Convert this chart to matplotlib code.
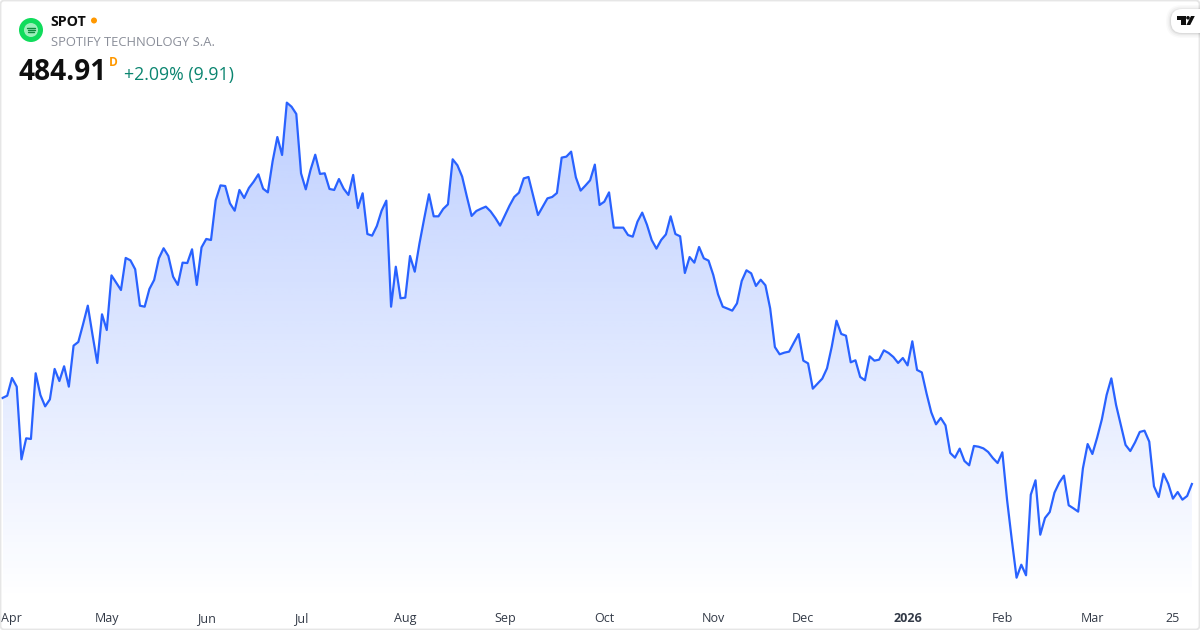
import numpy as np
import matplotlib
matplotlib.use('Agg')
import matplotlib.pyplot as plt
from matplotlib.patches import Circle, FancyBboxPatch, Polygon
from matplotlib.transforms import ScaledTranslation

plt.rcParams['font.family'] = ['Open Sans', 'DejaVu Sans']

symbol = 'SPOT'
company = 'SPOTIFY TECHNOLOGY S.A.'
last_price = '484.91'
change_text = '+2.09% (9.91)'

closes = [
    552.5, 554.3, 568.2, 561.4, 504.3, 520.8, 520.3, 571.9, 554.8, 545.9, 551.4, 575.3,
    565.8, 577.4, 561.4, 593.6, 596.5, 610.4, 625.0, 602.0, 580.0, 618.2, 605.9, 648.8,
    643.1, 637.3, 662.5, 660.6, 653.6, 625.0, 624.2, 638.1, 645.2, 662.2, 670.1, 664.0,
    647.8, 641.3, 658.8, 658.5, 669.3, 641.3, 670.8, 677.4, 676.6, 707.8, 719.5, 719.0,
    705.4, 699.6, 715.9, 709.6, 717.5, 722.4, 728.2, 716.9, 714.0, 738.4, 757.5, 743.4,
    784.5, 781.3, 775.6, 729.0, 716.4, 731.6, 743.6, 728.5, 729.0, 716.7, 715.9, 724.5,
    716.9, 712.0, 727.7, 701.7, 713.3, 681.3, 680.0, 687.6, 699.6, 707.5, 624.2, 655.6,
    630.8, 631.3, 664.0, 651.7, 674.0, 693.6, 712.5, 695.2, 695.2, 701.0, 704.6, 740.0,
    735.3, 726.4, 710.6, 695.5, 699.4, 701.2, 702.8, 699.1, 693.9, 687.9, 695.7, 703.6,
    710.4, 713.8, 725.0, 726.1, 711.2, 696.2, 702.8, 709.3, 710.4, 713.5, 741.3, 742.1,
    746.0, 725.8, 715.4, 719.3, 723.5, 735.8, 704.1, 706.7, 714.0, 686.3, 686.3, 686.3,
    680.5, 679.2, 691.0, 698.1, 688.6, 676.6, 669.8, 676.6, 681.0, 695.2, 681.3, 679.5,
    650.7, 663.2, 658.8, 671.1, 662.2, 660.4, 649.1, 633.9, 624.2, 622.7, 621.1, 626.8,
    644.4, 652.8, 650.4, 640.5, 645.4, 641.0, 622.9, 592.5, 586.8, 588.1, 588.9, 595.9,
    602.7, 581.8, 579.7, 559.8, 563.7, 567.7, 575.8, 592.8, 613.2, 602.8, 601.4, 580.5,
    582.1, 569.0, 566.4, 585.2, 581.8, 582.6, 589.9, 587.8, 584.7, 580.0, 583.9, 578.1,
    597.0, 574.5, 572.6, 556.1, 541.2, 531.8, 536.8, 531.0, 509.3, 505.6, 512.7, 503.0,
    499.6, 514.8, 514.2, 512.9, 510.1, 505.3, 501.4, 509.8, 472.3, 440.9, 411.3, 421.5,
    413.2, 476.5, 487.8, 445.1, 458.2, 462.9, 478.1, 486.0, 491.5, 468.2, 465.8, 463.2,
    497.2, 516.3, 508.5, 521.3, 535.7, 554.8, 567.9, 547.0, 531.3, 515.6, 510.8, 517.6,
    525.8, 526.8, 518.2, 483.1, 474.7, 493.0, 485.2, 473.4, 478.6, 472.6, 475.5, 484.91,
]

tick_positions = [0, 22, 43, 63, 85, 106, 127, 150, 169, 191, 211, 230, 247]
tick_labels = ['Apr', 'May', 'Jun', 'Jul', 'Aug', 'Sep', 'Oct', 'Nov', 'Dec', '2026', 'Feb', 'Mar', '25']

W, H = 1200, 630
fig = plt.figure(figsize=(W / 100, H / 100), dpi=100, facecolor='white')

# price pane, one bar = 4.738 px
ax = fig.add_axes([1 / W, 1 - 601 / H, 1198 / W, 600 / H], facecolor='none')
x = np.arange(len(closes))
y = np.array(closes)

# gradient under the line
grad = np.zeros((256, 2, 4))
grad[..., 0] = 41 / 255
grad[..., 1] = 98 / 255
grad[..., 2] = 1.0
grad[..., 3] = np.linspace(0.3, 0.0, 256).reshape(-1, 1)
img = ax.imshow(grad, extent=[x[0], x[-1], 393.0, y.max()], aspect='auto', origin='upper', zorder=1)
ax.set_xlim(-0.317, 252.5)
ax.set_ylim(393.0, 864.35)
poly = np.vstack([[x[0], 393.0], np.column_stack([x, y]), [x[-1], 393.0]])
clip = Polygon(poly, closed=True, transform=ax.transData, facecolor='none', edgecolor='none')
ax.add_patch(clip)
img.set_clip_path(clip)

ax.plot(x, y, color='#2962FF', lw=1.6, solid_joinstyle='round', zorder=2)

ax.set_yticks([])
ax.set_xticks(tick_positions)
ax.set_xticklabels(tick_labels, fontsize=9, color='#333a47')
ax.tick_params(axis='x', length=0, pad=8)
for lab in ax.get_xticklabels():
    if lab.get_text() == '2026':
        lab.set_fontweight('bold')
    if lab.get_text() == 'Apr':
        lab.set_ha('left')
        lab.set_transform(lab.get_transform() + ScaledTranslation(-2 / 100, 0, fig.dpi_scale_trans))
for s in ax.spines.values():
    s.set_visible(False)

# overlay in pixel coordinates for the header, logos and border
ui = fig.add_axes([0, 0, 1, 1], facecolor='none', zorder=5)
ui.set_xlim(0, W)
ui.set_ylim(H, 0)
ui.axis('off')

ui.add_patch(FancyBboxPatch((0.5, 0.5), W - 1, H - 1, boxstyle='round,pad=0,rounding_size=4',
                            fc='none', ec='#e6e6e6', lw=1.3))

# spotify logo
ui.add_patch(Circle((31, 30), 12, fc='#10dc5c', ec='none'))
ui.add_patch(Circle((31, 30), 7, fc='#9cf0bb', ec='none'))
for dy, x0, x1 in [(-2.2, 27, 35), (0.2, 27.5, 34.5), (2.4, 28, 34)]:
    ui.plot([x0, x1], [30 + dy, 30 + dy], color='#0c8a3c', lw=1.0, solid_capstyle='round')

ui.text(50.5, 21.5, symbol, fontsize=10.2, fontweight='bold', color='#0f0f0f', va='center', ha='left')
ui.add_patch(Circle((94, 20.5), 3, fc='#ff9800', ec='none'))
ui.text(51, 42, company, fontsize=9.35, color='#8a8e99', va='center', ha='left')
ui.text(18.5, 72, last_price, fontsize=20.2, fontweight='bold', color='#0f0f0f', va='center', ha='left')
ui.text(109, 62, 'D', fontsize=8.6, fontweight='bold', color='#ff9800', va='center', ha='left')
ui.text(124, 75, change_text, fontsize=12.8, color='#0b8570', va='center', ha='left')

# tradingview badge
for grow, a in [(5, 0.02), (3.5, 0.03), (2, 0.04), (1, 0.05)]:
    ui.add_patch(FancyBboxPatch((1171 - grow, 9 - grow + 1), 60, 24 + 2 * grow - 1,
                                boxstyle='round,pad=0,rounding_size=%g' % (11 + grow),
                                fc='black', ec='none', alpha=a))
ui.add_patch(FancyBboxPatch((1171, 9), 60, 24, boxstyle='round,pad=0,rounding_size=11', fc='white', ec='none'))
ui.add_patch(Polygon([(1177, 16), (1186, 16), (1186, 25), (1181, 25), (1181, 19.5), (1177, 19.5)], fc='#0f0f0f', ec='none'))
ui.add_patch(Circle((1188, 17.8), 1.8, fc='#0f0f0f', ec='none'))
ui.add_patch(Polygon([(1191, 16), (1194.8, 16), (1190.2, 25), (1186.4, 25)], fc='#0f0f0f', ec='none'))

fig.savefig('out.png', dpi=100, facecolor='white')
